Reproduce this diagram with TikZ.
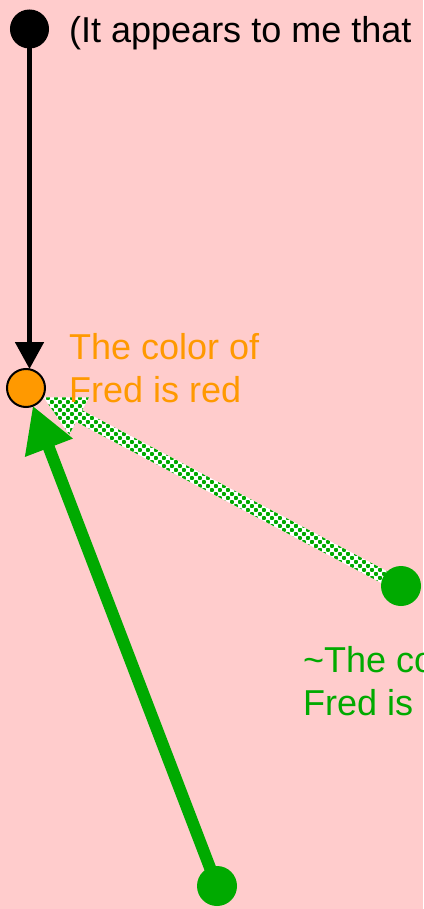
\documentclass[tikz,border=0pt]{standalone}
\usepackage{fontspec}
\setmainfont{Liberation Sans}
\usetikzlibrary{arrows.meta,calc}
\definecolor{bgpink}{HTML}{FFCCCC}
\definecolor{fgreen}{HTML}{00AA00}
\definecolor{forange}{HTML}{FF9900}
\tikzset{
  dot/.style={circle,inner sep=0pt,outer sep=0pt,minimum size=38pt},
  lbl/.style={inner sep=0pt,anchor=base west,align=left,font=\fontsize{36}{43}\selectfont},
  dotsq/.style={fill=fgreen,rounded corners=0.8pt},
}
\begin{document}
\begin{tikzpicture}[x=1pt,y=-1pt]
\useasboundingbox (0,0) rectangle (423,909);
\clip (0,0) rectangle (423,909);
\fill[bgpink] (0,0) rectangle (423,909);
% nodes (positions)
\node[dot] (black) at (29.5,29) {};
\node[dot] (orange) at (26,388) {};
\node[dot,minimum size=40pt] (greenR) at (401,586) {};
\node[dot,minimum size=40pt] (greenB) at (217,886) {};
% dotted arrow
\coordinate (T) at ($(orange.center)!20pt!(greenR.center)$);
\coordinate (S) at (greenR.center);
\coordinate (B) at ($(T)!40pt!(S)$);
\begin{scope}
\clip
  (T) -- ($(B)!21pt!90:(T)$) -- ($(B)!6.5pt!90:(T)$) -- ($(S)!6.5pt!90:(T)$)
  -- ($(S)!6.5pt!-90:(T)$) -- ($(B)!6.5pt!-90:(T)$) -- ($(B)!21pt!-90:(T)$) -- cycle;
\fill[white] (30,380) rectangle (410,600);
\foreach \i in {0,...,47}{
  \foreach \j in {0,...,27}{
    \fill[dotsq] ({30+8*\i},{380+8*\j}) rectangle ++(3.8,3.8);
    \fill[dotsq] ({34+8*\i},{384+8*\j}) rectangle ++(3.8,3.8);
  }
}
\end{scope}
% solid green arrow
\draw[fgreen,line width=12pt,-{Triangle[length=45pt,width=48pt]}] (greenB.center) -- (orange);
% black arrow
\draw[black,line width=5pt,-{Triangle[length=27pt,width=28pt]}] (black.center) -- (black.center |- orange.north);
% circles on top
\node[dot,fill=black,draw=black,line width=1pt] at (black) {};
\node[dot,fill=forange,draw=black,line width=2pt] at (orange) {};
\node[dot,minimum size=40pt,fill=fgreen] at (greenR) {};
\node[dot,minimum size=40pt,fill=fgreen] at (greenB) {};
% labels
\node[lbl,text=black] (t1) at (69,42.5) {(It appears to me that};
\node[lbl,text=forange] (t2) at (69,402) {The color of\\Fred is red};
\node[lbl,text=fgreen] (t3) at (303,715) {\textasciitilde The color of\\Fred is red};
\end{tikzpicture}
\end{document}
